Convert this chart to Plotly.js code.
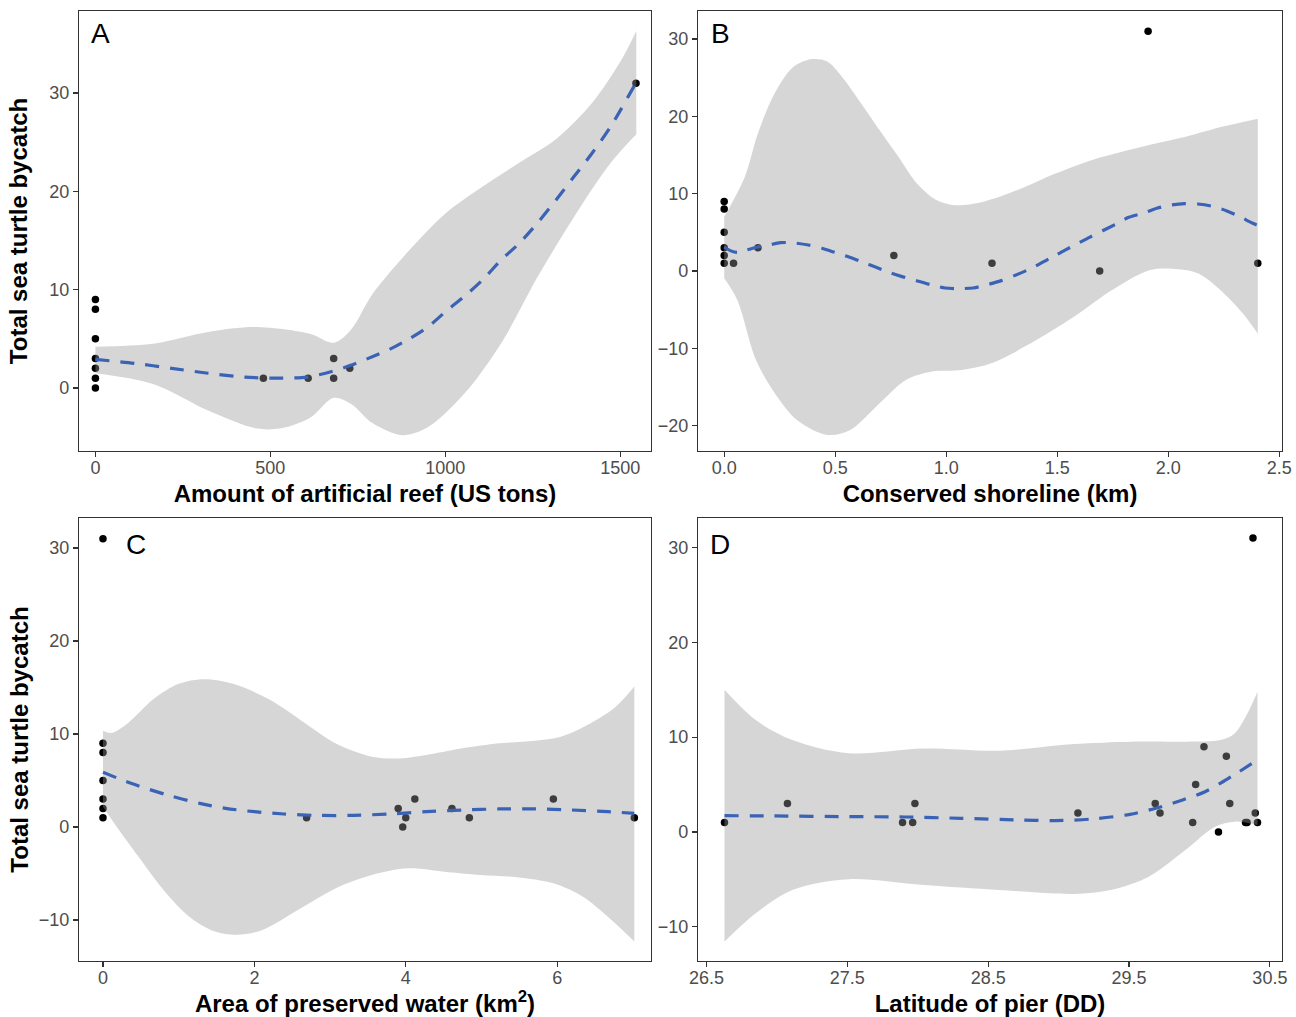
<!DOCTYPE html>
<html>
<head>
<meta charset="utf-8">
<script src="https://cdn.plot.ly/plotly-3.0.1.min.js"></script>
<style>html,body{margin:0;padding:0;background:#fff;}#chart{width:1296px;height:1017px;}</style>
</head>
<body>
<div id="chart"></div>
<script>
// ---- Panel A: artificial reef ----
const aX = [0,0,0,0,0,0,0,480,608,681,681,727,1545];
const aY = [9,8,5,3,2,1,0,1,1,3,1,2,31];
const aFitX = [0,113,218,322,427,521,605,678,730,793,845,897,950,1002,1054,1107,1159,1211,1264,1316,1368,1420,1473,1546];
const aFitY = [2.9,2.5,2.0,1.5,1.1,1.0,1.1,1.7,2.3,3.2,4.0,5.0,6.2,7.8,9.3,11.0,13.0,14.7,16.8,19.1,21.5,23.9,26.6,31.1];
const aUpX = [0,165,322,458,615,681,730,793,897,1002,1107,1211,1316,1420,1504,1546];
const aUpY = [4.2,4.5,5.7,6.2,5.5,4.6,5.9,9.6,14.0,17.8,20.5,22.9,25.3,29.0,33.4,36.3];
const aLoX = [0,165,322,458,531,615,681,730,793,877,950,1054,1159,1264,1368,1473,1546];
const aLoY = [1.5,0.4,-2.3,-4.1,-4.1,-3.0,-1.0,-1.6,-3.6,-4.8,-4.0,-0.6,4.5,11.3,17.4,22.9,25.8];

// ---- Panel B: conserved shoreline ----
const bX = [0,0,0,0,0,0,0.042,0.152,0.764,1.206,1.691,1.909,2.403];
const bY = [9,8,5,3,2,1,1,3,2,1,0,31,1];
const bFitX = [0,0.03,0.06,0.1,0.15,0.2,0.253,0.303,0.379,0.44,0.497,0.565,0.625,0.684,0.742,0.801,0.866,0.93,0.995,1.055,1.121,1.18,1.248,1.307,1.366,1.417,1.476,1.535,1.594,1.645,1.704,1.764,1.822,1.889,1.948,2.007,2.074,2.133,2.192,2.261,2.319,2.378,2.403];
const bFitY = [3.1,2.6,2.4,2.7,3.1,3.36,3.66,3.66,3.36,2.93,2.41,1.77,1.12,0.47,-0.17,-0.73,-1.27,-1.77,-2.2,-2.28,-2.2,-1.81,-1.25,-0.6,0.12,0.86,1.77,2.7,3.58,4.35,5.2,6.06,6.94,7.5,8.1,8.5,8.7,8.66,8.4,7.8,7.07,6.2,5.9];
const bUpX = [0,0.093,0.152,0.228,0.312,0.396,0.464,0.531,0.616,0.7,0.784,0.868,0.953,1.037,1.172,1.324,1.492,1.661,1.914,2.083,2.251,2.403];
const bUpY = [7.0,12.2,17.8,23.0,26.4,27.4,27.1,25.1,21.7,18.2,14.8,11.3,9.2,8.5,9.0,10.5,12.6,14.4,16.3,17.4,18.7,19.7];
const bLoX = [0,0.059,0.143,0.228,0.329,0.464,0.565,0.7,0.818,0.936,1.071,1.206,1.408,1.577,1.745,1.914,2.015,2.133,2.251,2.336,2.403];
const bLoY = [-0.95,-3.75,-11.5,-15.8,-19.3,-21.2,-20.6,-17.1,-14.1,-13.0,-12.8,-11.9,-8.9,-5.9,-2.5,0.1,0.3,-0.3,-2.9,-5.5,-8.1];

// ---- Panel C: preserved water ----
const cX = [0,0,0,0,0,0,0,2.69,3.90,4.00,3.96,4.12,4.61,4.84,5.95,7.02];
const cY = [31,9,8,5,3,2,1,1,2,1,0,3,2,1,3,1];
const cFitX = [0,0.37,0.85,1.28,1.62,2.0,2.39,2.82,3.31,3.79,4.27,4.75,5.23,5.71,6.19,6.67,7.02];
const cFitY = [5.88,4.7,3.44,2.54,2.0,1.65,1.4,1.25,1.25,1.4,1.65,1.83,1.94,1.94,1.83,1.65,1.47];
const cUpX = [0,0.106,0.32,0.66,1.0,1.33,1.72,2.2,2.68,3.07,3.55,3.93,4.27,4.75,5.23,5.71,6.05,6.43,6.77,7.02];
const cUpY = [10.36,10.1,11.1,13.7,15.4,15.9,15.4,13.7,11.1,9.0,7.56,7.38,7.74,8.46,9.0,9.28,9.71,11.1,12.9,15.1];
const cLoX = [0,0.18,0.47,0.80,1.14,1.48,1.77,2.1,2.58,3.07,3.55,4.03,4.51,4.99,5.47,5.95,6.34,6.67,7.02];
const cLoY = [2.19,0.04,-3.19,-6.77,-9.64,-11.25,-11.6,-11.1,-8.9,-6.6,-5.16,-4.44,-4.8,-5.16,-5.4,-6.06,-7.49,-9.64,-12.3];

// ---- Panel D: latitude ----
const dX = [26.628,27.075,27.892,27.964,27.98,29.137,29.686,29.72,29.952,29.973,30.032,30.135,30.191,30.215,30.327,30.338,30.38,30.396,30.412];
const dY = [1,3,1,1,3,2,3,2,1,5,9,0,8,3,1,1,31,2,1];
const dFitX = [26.628,26.98,27.51,27.91,28.31,28.71,28.975,29.24,29.507,29.69,29.88,30.04,30.226,30.412];
const dFitY = [1.72,1.69,1.62,1.58,1.44,1.27,1.2,1.37,1.86,2.5,3.38,4.25,5.84,7.6];
const dUpX = [26.628,26.85,27.11,27.51,28.04,28.58,29.11,29.51,29.91,30.15,30.25,30.33,30.412];
const dUpY = [15.0,11.8,9.7,8.3,8.8,8.58,9.28,9.53,9.53,9.7,10.4,12.2,14.8];
const dLoX = [26.628,26.85,27.11,27.51,28.04,28.58,29.11,29.37,29.64,29.9,30.11,30.25,30.412];
const dLoY = [-11.57,-8.58,-6.12,-4.99,-5.6,-6.12,-6.54,-6.12,-4.71,-1.9,0.56,1.09,0.74];

const panelLabels = ["A","B","C","D"];
const xTitles = ["Amount of artificial reef (US tons)","Conserved shoreline (km)","Area of preserved water (km<sup>2</sup>)","Latitude of pier (DD)"];
const yTitle = "Total sea turtle bycatch";

const FONT = "Liberation Sans, Arial, Helvetica, sans-serif";
const LINE_COLOR = "#3a62b5";

function panel(px, py, fx, fy, ux, uy, lx, ly, xa, ya) {
  return [
    {type:"scatter", mode:"markers", x:px, y:py, xaxis:xa, yaxis:ya,
     marker:{color:"#000000", size:7.5}, hoverinfo:"skip"},
    {type:"scatter", mode:"lines", x:lx, y:ly, xaxis:xa, yaxis:ya,
     line:{width:0, color:"rgba(0,0,0,0)", shape:"spline", smoothing:0.9}, hoverinfo:"skip"},
    {type:"scatter", mode:"lines", x:ux, y:uy, xaxis:xa, yaxis:ya,
     fill:"tonexty", fillcolor:"rgba(153,153,153,0.4)",
     line:{width:0, color:"rgba(0,0,0,0)", shape:"spline", smoothing:0.9}, hoverinfo:"skip"},
    {type:"scatter", mode:"lines", x:fx, y:fy, xaxis:xa, yaxis:ya,
     line:{color:LINE_COLOR, width:3.2, dash:"14px,11px", shape:"spline", smoothing:0.8}, hoverinfo:"skip"}
  ];
}

const data = [].concat(
  panel(aX,aY,aFitX,aFitY,aUpX,aUpY,aLoX,aLoY,"x","y"),
  panel(bX,bY,bFitX,bFitY,bUpX,bUpY,bLoX,bLoY,"x2","y2"),
  panel(cX,cY,cFitX,cFitY,cUpX,cUpY,cLoX,cLoY,"x3","y3"),
  panel(dX,dY,dFitX,dFitY,dUpX,dUpY,dLoX,dLoY,"x4","y4")
);

const W = 1296, H = 1017;
function base(extra) {
  return Object.assign({
    showline:true, mirror:true, linecolor:"#333333", linewidth:1.2,
    ticks:"outside", ticklen:5, tickwidth:1.2, tickcolor:"#333333",
    tickfont:{family:FONT, size:18, color:"#4d4d4d"},
    showgrid:false, zeroline:false, automargin:false
  }, extra);
}
function xt(t) { return {text:t, font:{family:FONT, size:24, color:"#000000", weight:"bold"}, standoff:8}; }
function yt(t, s) { return {text:t, font:{family:FONT, size:24, color:"#000000", weight:"bold"}, standoff:s}; }

const dxL = [79/W, 651/W], dxR = [698/W, 1282/W];
const dyT = [1-451/H, 1-11/H], dyB = [1-961/H, 1-518/H];

const layout = {
  width:W, height:H, margin:{l:0,r:0,t:0,b:0},
  paper_bgcolor:"#ffffff", plot_bgcolor:"#ffffff", showlegend:false,
  font:{family:FONT},
  xaxis: base({domain:dxL, anchor:"y", range:[-46.9,1588], tickvals:[0,500,1000,1500], ticklabelstandoff:-5, title:xt(xTitles[0])}),
  yaxis: base({domain:dyT, anchor:"x", range:[-6.41,38.34], tickvals:[0,10,20,30], title:yt(yTitle,14)}),
  xaxis2: base({domain:dxR, anchor:"y2", range:[-0.118,2.512], tickmode:"linear", tick0:0, dtick:0.5, tickformat:".1f", ticklabelstandoff:-5, title:xt(xTitles[1])}),
  yaxis2: base({domain:dyT, anchor:"x2", range:[-23.28,33.62], tickvals:[-20,-10,0,10,20,30]}),
  xaxis3: base({domain:dxL, anchor:"y3", range:[-0.317,7.24], tickvals:[0,2,4,6], ticklabelstandoff:-5, title:xt(xTitles[2])}),
  yaxis3: base({domain:dyB, anchor:"x3", range:[-14.41,33.23], tickvals:[-10,0,10,20,30], title:yt(yTitle,3)}),
  xaxis4: base({domain:dxR, anchor:"y4", range:[26.44,30.586], tickmode:"linear", tick0:26.5, dtick:1, tickformat:".1f", ticklabelstandoff:-5, title:xt(xTitles[3])}),
  yaxis4: base({domain:dyB, anchor:"x4", range:[-13.61,33.12], tickvals:[-10,0,10,20,30]}),
  annotations: [
    {text:panelLabels[0], x:89/W, y:1-33/H},
    {text:panelLabels[1], x:709/W, y:1-33/H},
    {text:panelLabels[2], x:124/W, y:1-544/H},
    {text:panelLabels[3], x:708/W, y:1-544/H}
  ].map(a => Object.assign(a, {xref:"paper", yref:"paper", xanchor:"left", yanchor:"middle", showarrow:false,
       font:{family:FONT, size:28, color:"#000000"}}))
};

Plotly.newPlot("chart", data, layout, {staticPlot:true, displayModeBar:false});
</script>
</body>
</html>
